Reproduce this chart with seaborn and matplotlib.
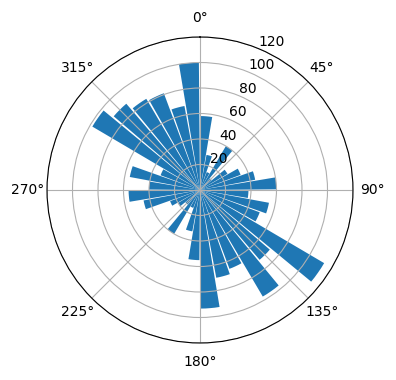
import numpy as np
import matplotlib
matplotlib.use("Agg")
import matplotlib.pyplot as plt
import seaborn as sns

# Wind-rose style data: bin centres (degrees) and counts
directions_deg = [5, 15, 25, 35, 45, 55, 65, 75, 85,
                  95, 105, 115, 125, 135, 145, 155, 165, 175,
                  185, 195, 205, 215, 225, 235, 245, 255, 265,
                  275, 285, 295, 305, 315, 325, 335, 345, 355]
counts = [58, 28, 15, 40, 12, 25, 34, 44, 60,
          38, 55, 50, 113, 72, 97, 66, 70, 93,
          55, 33, 15, 40, 15, 20, 25, 45, 56,
          40, 56, 33, 98, 89, 83, 81, 67, 100]
bin_width_deg = 9

color = sns.color_palette("tab10")[0]

fig = plt.figure(figsize=(3.96, 3.80), dpi=100)
ax = fig.add_axes([47 / 396, 37 / 380, 306 / 396, 306 / 380], projection="polar")
ax.set_theta_zero_location("N")
ax.set_theta_direction(-1)
ax.bar(np.deg2rad(directions_deg), counts, width=np.deg2rad(bin_width_deg), color=color)
ax.set_ylim(0, 120)
ax.set_yticks([20, 40, 60, 80, 100, 120])
fig.savefig("out.png", dpi=100)
